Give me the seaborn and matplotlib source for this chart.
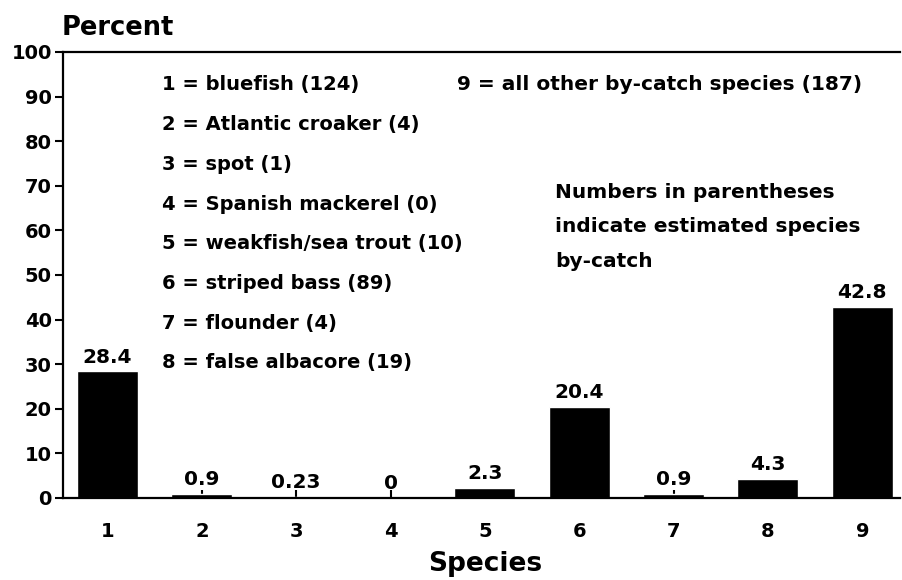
import matplotlib
matplotlib.use("Agg")
import matplotlib.pyplot as plt
import pandas as pd
import seaborn as sns

# Percent of by-catch by species
species = ["1", "2", "3", "4", "5", "6", "7", "8", "9"]
percent = [28.4, 0.9, 0.23, 0.0, 2.3, 20.4, 0.9, 4.3, 42.8]
value_labels = ["28.4", "0.9", "0.23", "0", "2.3", "20.4", "0.9", "4.3", "42.8"]

key_left = [
    "1 = bluefish (124)",
    "2 = Atlantic croaker (4)",
    "3 = spot (1)",
    "4 = Spanish mackerel (0)",
    "5 = weakfish/sea trout (10)",
    "6 = striped bass (89)",
    "7 = flounder (4)",
    "8 = false albacore (19)",
]
key_right = "9 = all other by-catch species (187)"
note_lines = ["Numbers in parentheses", "indicate estimated species", "by-catch"]

sns.set_style("white")
plt.rcParams["font.family"] = ["DejaVu Sans"]
plt.rcParams["font.weight"] = "bold"
plt.rcParams["text.color"] = "black"
plt.rcParams["axes.labelcolor"] = "black"
plt.rcParams["xtick.color"] = "black"
plt.rcParams["ytick.color"] = "black"

df = pd.DataFrame({"species": species, "percent": percent})

fig = plt.figure(figsize=(9.02, 5.80), dpi=100)
ax = fig.add_axes([0.0698, 0.1414, 0.928, 0.769])

sns.barplot(data=df, x="species", y="percent", color="black",
            saturation=1, width=0.647, ax=ax)

ax.set_ylim(0, 100)
ax.set_xlim(-0.472, 8.40)
ax.set_yticks(range(0, 101, 10))
ax.tick_params(axis="y", direction="out", length=6, width=1.5,
               labelsize=14, pad=2, left=True, colors="black")
ax.tick_params(axis="x", direction="in", length=6, width=1.5,
               labelsize=14, pad=17, bottom=True, colors="black")
for lab in ax.get_xticklabels() + ax.get_yticklabels():
    lab.set_fontweight("bold")

for side in ["left", "top", "bottom"]:
    ax.spines[side].set_linewidth(1.6)
    ax.spines[side].set_color("black")
ax.spines["right"].set_visible(False)

ax.set_xlabel("Species", fontsize=19, fontweight="bold", color="black")
ax.xaxis.set_label_coords(0.505, -0.119)
ax.set_ylabel("")
fig.text(0.0687, 0.940, "Percent", fontsize=18.5, fontweight="bold",
         ha="left", va="baseline", color="black")

# value labels above each bar
for i, (v, lab) in enumerate(zip(percent, value_labels)):
    ax.text(i, v + 3.2, lab, ha="center", va="center", fontsize=14.5,
            fontweight="bold", color="black")

# species key
for k, line in enumerate(key_left):
    ax.text(0.578, 92.6 - 8.9 * k, line, ha="left", va="center",
            fontsize=14, fontweight="bold", color="black")
ax.text(3.706, 92.6, key_right, ha="left", va="center", fontsize=14.5,
        fontweight="bold", color="black")
for k, line in enumerate(note_lines):
    ax.text(4.745, 68.6 - 7.8 * k, line, ha="left", va="center",
            fontsize=14.5, fontweight="bold", color="black")

fig.savefig("out.png", dpi=100)
